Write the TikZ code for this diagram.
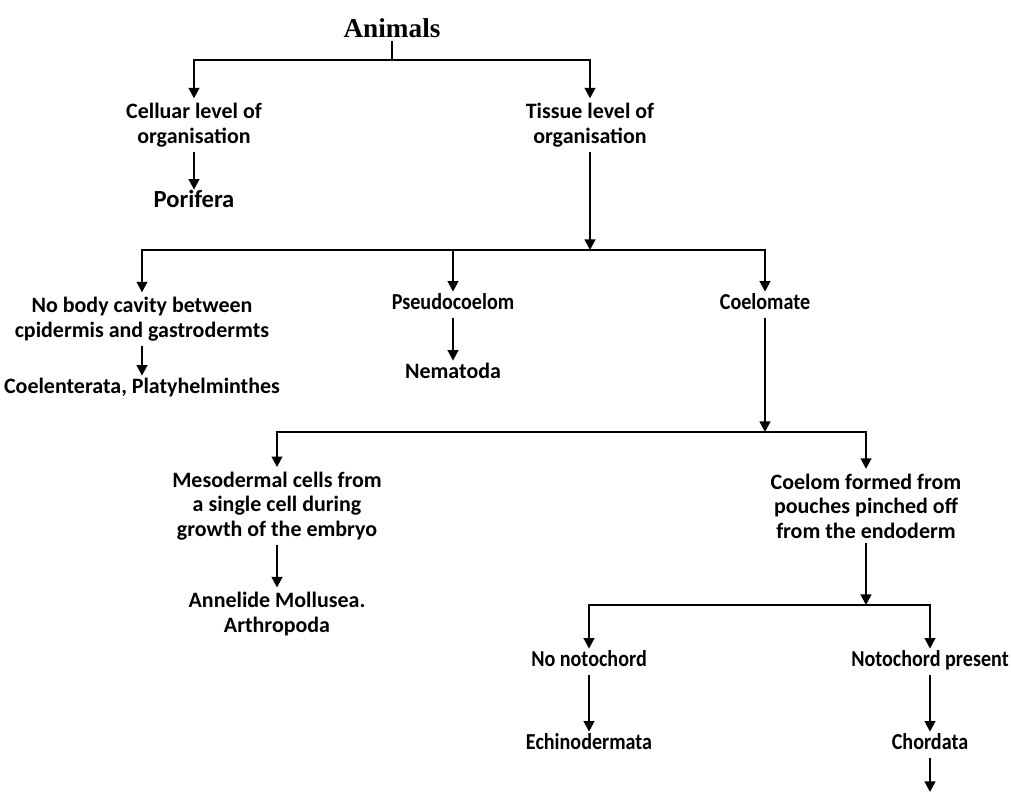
\documentclass[tikz,border=0pt]{standalone}
\usepackage{fontspec}
\setmainfont{Carlito}
\newfontfamily\headfont{Liberation Serif}
\newfontfamily\narrowfont[FakeStretch=0.88]{Carlito}
\usetikzlibrary{arrows.meta}

\tikzset{
	lbl/.style={font=\bfseries\fontsize{12.5}{14}\selectfont, align=center, inner sep=2.5pt},
	one/.style={lbl, text height=1.6ex, text depth=0.45ex},
	small/.style={one, font=\narrowfont\bfseries\fontsize{13}{14}\selectfont},
	big/.style={one, font=\bfseries\fontsize{14}{16}\selectfont},
	head/.style={font=\headfont\bfseries\fontsize{15.5}{17}\selectfont, inner sep=2pt},
	conn/.style={line width=1.3pt, black},
	arr/.style={conn, -{Triangle[length=6pt,width=6pt]}}
}

\begin{document}
\begin{tikzpicture}[x=0.02cm, y=-0.02cm]
		%%%%% START %%%%%
		
		\useasboundingbox (0, 0) rectangle (1011, 792);
		
		\node[head] (animals) at (392, 28) {Animals};
		
		\node[lbl] (cellular) at (194, 125) {Celluar level of\\organisation};
		\node[big] (porifera) at (194, 203) {Porifera};
		\node[lbl] (tissue) at (590, 125) {Tissue level of\\organisation};
		
		\node[lbl] (nobody) at (142, 319) {No body cavity between\\cpidermis and gastrodermts};
		\node[one] (coelent) at (142, 389) {Coelenterata, Platyhelminthes};
		\node[small] (pseudo) at (453, 305) {Pseudocoelom};
		\node[one] (nematoda) at (453, 374) {Nematoda};
		\node[small] (coelomate) at (765, 305) {Coelomate};
		
		\node[lbl] (meso) at (277, 506) {Mesodermal cells from\\a single cell during\\growth of the embryo};
		\node[lbl] (annelide) at (277, 614) {Annelide Mollusea.\\Arthropoda};
		\node[lbl] (pouch) at (866, 506) {Coelom formed from\\pouches pinched off\\from the endoderm};
		
		\node[small] (nonoto) at (589, 662) {No notochord};
		\node[small] (echino) at (589, 745) {Echinodermata};
		\node[small] (noto) at (930, 662) {Notochord present};
		\node[small] (chordata) at (930, 745) {Chordata};
		
		\coordinate (b1) at (392, 60);
		\coordinate (b2) at (590, 250);
		\coordinate (b3) at (765, 432);
		\coordinate (b4) at (866, 605);
		\coordinate (chend) at (930, 792);
		
		% first split
		\draw[conn] (animals) -- (b1);
		\draw[arr] (b1) -| (cellular);
		\draw[arr] (b1) -| (tissue);
		\draw[arr] (cellular) -- (porifera);
		
		% tissue level
		\draw[arr] (tissue) -- (b2);
		\draw[arr] (b2) -| (nobody);
		\draw[arr] (b2) -| (pseudo);
		\draw[arr] (b2) -| (coelomate);
		\draw[arr] (nobody) -- (coelent);
		\draw[arr] (pseudo) -- (nematoda);
		
		% coelomate
		\draw[arr] (coelomate) -- (b3);
		\draw[arr] (b3) -| (meso);
		\draw[arr] (b3) -| (pouch);
		\draw[arr] (meso) -- (annelide);
		
		% notochord
		\draw[arr] (pouch) -- (b4);
		\draw[arr] (b4) -| (nonoto);
		\draw[arr] (b4) -| (noto);
		\draw[arr] (nonoto) -- (echino);
		\draw[arr] (noto) -- (chordata);
		\draw[arr] (chordata) -- (chend);
		
		%%%%% END %%%%%
	\end{tikzpicture}
\end{document}
